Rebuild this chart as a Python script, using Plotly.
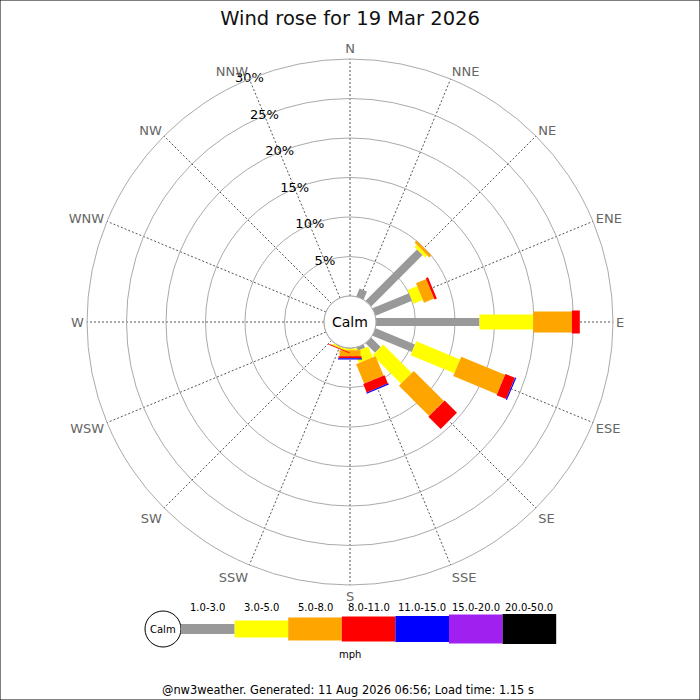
import plotly.graph_objects as go

# wind rose for 19 Mar 2026, % of time per direction and speed band (mph)
directions = ['N', 'NNE', 'NE', 'ENE', 'E', 'ESE', 'SE', 'SSE',
              'S', 'SSW', 'SW', 'WSW', 'W', 'WNW', 'NW', 'NNW']
bin_labels = ['1.0-3.0', '3.0-5.0', '5.0-8.0', '8.0-11.0', '11.0-15.0', '15.0-20.0', '20.0-50.0']
bin_colors = ['#999999', '#ffff00', '#ffa500', '#ff0000', '#0000ff', '#a020f0', '#000000']
bin_widths = [8, 15, 21, 23, 24, 27, 28]  # px, legs get fatter with speed

spd_1_3 = [0, 1.1, 9.2, 5.0, 13.1, 5.4, 1.7, 0.45, 0.05, 0.05, 0, 0, 0, 0, 0, 0]
spd_3_5 = [0, 0, 0.4, 1.3, 6.8, 6.0, 5.1, 1.5, 0.25, 0.2, 0, 0, 0, 0, 0, 0]
spd_5_8 = [0, 0, 0.35, 1.4, 4.9, 6.0, 5.4, 2.65, 0.75, 0.05, 0, 0, 0, 0, 0, 0]
spd_8_11 = [0, 0, 0, 0.3, 1.0, 1.3, 2.2, 1.15, 0.25, 0.1, 0, 0, 0, 0, 0, 0]
spd_11_15 = [0, 0, 0, 0, 0, 0.15, 0, 0.15, 0.15, 0, 0, 0, 0, 0, 0, 0]
spd_15_20 = [0] * 16
spd_20_50 = [0] * 16
bins = [spd_1_3, spd_3_5, spd_5_8, spd_8_11, spd_11_15, spd_15_20, spd_20_50]

radial_ticks = [5, 10, 15, 20, 25, 30]
title = 'Wind rose for 19 Mar 2026'
footer = '@nw3weather. Generated: 11 Aug 2026 06:56; Load time: 1.15 s'

angles = [i * 22.5 for i in range(16)]
FONT = 'DejaVu Sans'

# polar placement in px (700x700 page)
W = H = 700
cx, cy, R = 350, 322, 263
hole_px = 26

fig = go.Figure()

cum = [0.0] * 16
for vals, col, lw in zip(bins, bin_colors, bin_widths):
    rr, tt = [], []
    for i, v in enumerate(vals):
        if v > 0:
            rr += [cum[i], cum[i] + v, None]
            tt += [angles[i], angles[i], None]
            cum[i] += v
    if rr:
        fig.add_trace(go.Scatterpolar(r=rr, theta=tt, mode='lines',
                                      line=dict(color=col, width=lw),
                                      hoverinfo='skip', showlegend=False))

# percentage labels along NNW
fig.add_trace(go.Scatterpolar(r=radial_ticks, theta=[337.5] * len(radial_ticks),
                              mode='text', text=[f'{t}%' for t in radial_ticks],
                              textfont=dict(family=FONT, size=13, color='black'),
                              hoverinfo='skip', showlegend=False))

fig.update_layout(
    width=W, height=H, autosize=False,
    margin=dict(l=0, r=0, t=0, b=0),
    paper_bgcolor='white', plot_bgcolor='white',
    font=dict(family=FONT),
    title=dict(text=title, x=0.5, xanchor='center', y=1 - 18 / H, yanchor='middle',
               font=dict(family=FONT, size=19.5, color='#111')),
    polar=dict(
        domain=dict(x=[(cx - R) / W, (cx + R) / W],
                    y=[(H - cy - R) / H, (H - cy + R) / H]),
        hole=hole_px / R,
        bgcolor='white',
        radialaxis=dict(range=[0, 30], tickvals=radial_ticks, showticklabels=False,
                        ticks='', showline=False, gridcolor='#aaaaaa', gridwidth=1),
        angularaxis=dict(rotation=90, direction='clockwise',
                         tickvals=angles, ticktext=directions, ticks='',
                         tickfont=dict(family=FONT, size=13, color='#666666'),
                         showline=True, linecolor='#aaaaaa', linewidth=1,
                         gridcolor='#555555', gridwidth=1, griddash='2px,2px'),
    ),
)

def note(text, x, y, size):
    return dict(text=text, x=x / W, y=(H - y) / H, xref='paper', yref='paper',
                xanchor='center', yanchor='middle', showarrow=False,
                font=dict(family=FONT, size=size, color='black'))

shapes = []
# calm circle in the middle
shapes.append(dict(type='circle', xref='paper', yref='paper',
                   x0=(cx - hole_px) / W, x1=(cx + hole_px) / W,
                   y0=(H - cy - hole_px) / H, y1=(H - cy + hole_px) / H,
                   line=dict(color='#aaaaaa', width=1), fillcolor='white', layer='above'))
annotations = [note('Calm', cx, cy, 14)]

# legend strip
ly = 629
lcx, lcr = 163, 18
shapes.append(dict(type='circle', xref='paper', yref='paper',
                   x0=(lcx - lcr) / W, x1=(lcx + lcr) / W,
                   y0=(H - ly - lcr) / H, y1=(H - ly + lcr) / H,
                   line=dict(color='black', width=1), fillcolor='white'))
annotations.append(note('Calm', lcx, ly, 10))
x_start, seg = 181, 53.6
for k, (lab, col, lw) in enumerate(zip(bin_labels, bin_colors, bin_widths)):
    x0 = x_start + k * seg
    hw = lw / 2 + 1
    shapes.append(dict(type='rect', xref='paper', yref='paper',
                       x0=x0 / W, x1=(x0 + seg) / W,
                       y0=(H - ly - hw) / H, y1=(H - ly + hw) / H,
                       line=dict(width=0), fillcolor=col))
    annotations.append(note(lab, x0 + seg / 2, 607, 10))
annotations.append(note('mph', cx, 654, 10))
annotations.append(note(footer, 348, 690, 11.4))

# frame round the image
shapes.append(dict(type='rect', xref='paper', yref='paper', x0=0, x1=1, y0=0, y1=1,
                   line=dict(color='black', width=1)))

fig.update_layout(shapes=shapes, annotations=annotations)

fig.write_html('out.html', config={'displayModeBar': False},
               post_script="document.body.style.margin='0';document.body.style.overflow='hidden';")
